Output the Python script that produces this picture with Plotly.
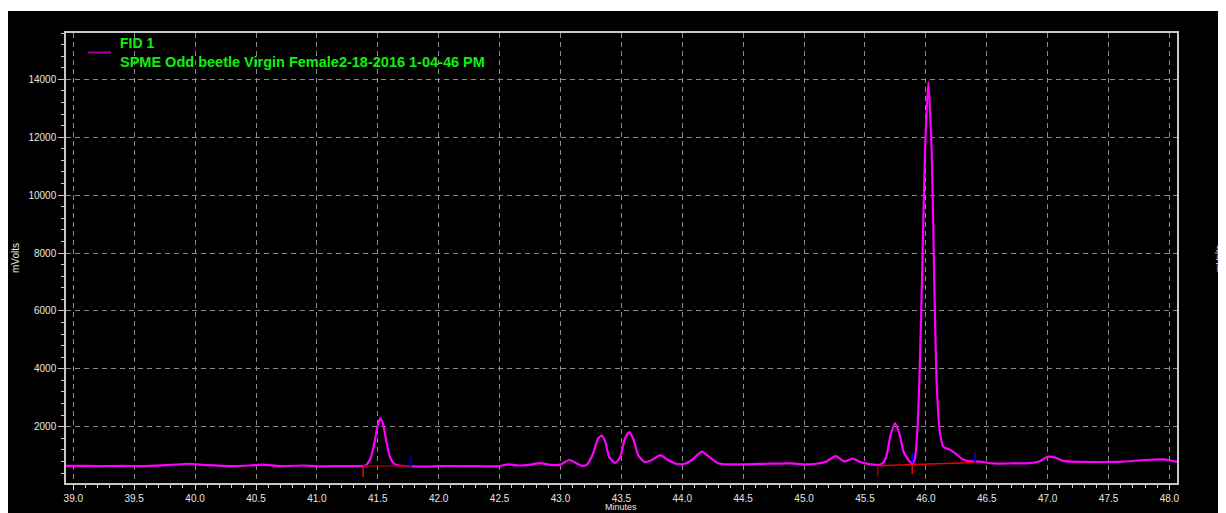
import plotly.graph_objects as go

# ---------------- data ----------------
times = [38.94, 39.0, 39.2, 39.4, 39.6, 39.8, 39.95, 40.1, 40.3, 40.45, 40.55, 40.7,
         40.9, 41.0, 41.2, 41.35, 41.40, 41.44, 41.47, 41.50, 41.52, 41.54, 41.57,
         41.60, 41.64, 41.70, 41.8, 41.9, 42.0, 42.2, 42.4, 42.5, 42.57, 42.65, 42.75,
         42.83, 42.92, 43.0, 43.07, 43.13, 43.18, 43.22, 43.27, 43.31, 43.34, 43.37,
         43.40, 43.45, 43.49, 43.53, 43.565, 43.60, 43.64, 43.69, 43.75, 43.82, 43.88,
         43.95, 44.02, 44.08, 44.16, 44.22, 44.30, 44.5, 44.7, 44.9, 45.0, 45.1, 45.18,
         45.26, 45.33, 45.40, 45.46, 45.55, 45.63, 45.67, 45.71, 45.746, 45.78, 45.82,
         45.87, 45.89, 45.91, 45.929, 45.946, 45.968, 45.993, 46.02, 46.048, 46.069,
         46.089, 46.116, 46.143, 46.2, 46.25, 46.30, 46.37, 46.45, 46.55, 46.7, 46.85,
         46.93, 47.0, 47.05, 47.12, 47.2, 47.4, 47.6, 47.8, 47.95, 48.0, 48.062]
mvolts = [650, 650, 640, 645, 640, 680, 720, 670, 640, 660, 690, 640,
          660, 630, 640, 640, 660, 900, 1400, 2050, 2290, 2150, 1500,
          950, 700, 650, 630, 620, 640, 640, 630, 640, 700, 660, 690,
          740, 680, 690, 850, 740, 650, 700, 1100, 1600, 1690, 1450,
          950, 750, 950, 1600, 1810, 1550, 1000, 780, 850, 1020, 860,
          720, 720, 850, 1140, 960, 730, 700, 720, 730, 700, 720, 790,
          980, 800, 900, 780, 700, 690, 900, 1700, 2117, 1800, 1100,
          780, 740, 900, 1780, 3500, 7000, 11500, 13900, 11500, 7000,
          3500, 1780, 1310, 1200, 1050, 880, 800, 790, 730, 730, 740,
          800, 960, 950, 830, 790, 780, 790, 850, 870, 840, 790]

# integration baselines (start time/value, end time/value)
base_t0 = [41.38, 45.605]
base_v0 = [642, 653]
base_t1 = [41.77, 46.405]
base_v1 = [642, 760]
base_colors = ["#990000", "#ee0000"]

# peak start ticks (red) and end ticks (blue)
start_t = [41.38, 45.605, 45.888]
start_lo = [262, 272, 366]
start_hi = [642, 653, 701]
start_colors = ["#ff0000", "#990000", "#ff0000"]
end_t = [41.77, 45.888, 46.405]
end_lo = [608, 746, 735]
end_hi = [988, 1102, 1102]
end_colors = ["#0000aa", "#0000ff", "#0000ff"]

x_range = [38.940, 48.062]
y_range = [55, 15600]
x_ticks = [39.0 + 0.5 * i for i in range(19)]
y_ticks = [2000, 4000, 6000, 8000, 10000, 12000, 14000]

legend_title = "FID 1"
legend_run = "SPME Odd beetle Virgin Female2-18-2016 1-04-46 PM"

# ---------------- figure ----------------
OFF = 8                      # page body margin
W, H = 1218, 505
L, R, T, B = 58, 49, 25, 30
pw, ph = W - L - R, H - T - B

def px_x(p):                 # screenshot x pixel -> paper x
    return (p - OFF - L) / pw

def px_y(p):                 # screenshot y pixel -> paper y
    return (H - B - (p - OFF)) / ph

fig = go.Figure()

fig.add_trace(go.Scatter(x=times, y=mvolts, mode="lines",
                         line=dict(color="#ff00ff", width=2.2, shape="spline", smoothing=0.6),
                         showlegend=False, hoverinfo="skip"))

for t0, v0, t1, v1, c in zip(base_t0, base_v0, base_t1, base_v1, base_colors):
    fig.add_trace(go.Scatter(x=[t0, t1], y=[v0, v1], mode="lines",
                             line=dict(color=c, width=1.5), showlegend=False, hoverinfo="skip"))
for t, lo, hi, c in zip(start_t, start_lo, start_hi, start_colors):
    fig.add_trace(go.Scatter(x=[t, t], y=[lo, hi], mode="lines",
                             line=dict(color=c, width=1.5), showlegend=False, hoverinfo="skip"))
for t, lo, hi, c in zip(end_t, end_lo, end_hi, end_colors):
    fig.add_trace(go.Scatter(x=[t, t], y=[lo, hi], mode="lines",
                             line=dict(color=c, width=1.5), showlegend=False, hoverinfo="skip"))

axis_col = "#c8c8c8"
tick_font = dict(family="Liberation Sans, Arial, sans-serif", size=10, color="#e6e6e6")
grid = dict(showgrid=True, gridcolor="#8a8a8a", gridwidth=1, griddash="5px,4px")

fig.update_layout(
    width=W, height=H,
    margin=dict(l=L, r=R, t=T, b=B, autoexpand=False),
    paper_bgcolor="white", plot_bgcolor="black",
    xaxis=dict(range=x_range, tickvals=x_ticks, tickformat=".1f", ticks="outside",
               ticklen=5, tickcolor=axis_col, showline=True, linecolor=axis_col,
               linewidth=1.5, mirror=True, zeroline=False, tickfont=tick_font,
               minor=dict(dtick=0.1, tick0=39.0, ticks="outside", ticklen=3,
                          tickcolor=axis_col, showgrid=False),
               automargin=False, **grid),
    yaxis=dict(range=y_range, tickvals=y_ticks, tickformat="d", ticks="outside",
               ticklen=6, tickcolor=axis_col, showline=True, linecolor=axis_col,
               linewidth=1.5, mirror=True, zeroline=False, tickfont=tick_font,
               minor=dict(dtick=400, tick0=0, ticks="outside", ticklen=3,
                          tickcolor=axis_col, showgrid=False),
               automargin=False, **grid),
    yaxis2=dict(range=y_range, tickvals=y_ticks, tickformat="d", ticks="outside",
                ticklen=6, tickcolor=axis_col, overlaying="y", side="right",
                anchor="x", showline=True, linecolor=axis_col, linewidth=1.5,
                showgrid=False, zeroline=False, tickfont=tick_font,
                minor=dict(dtick=400, tick0=0, ticks="outside", ticklen=3,
                           tickcolor=axis_col),
                automargin=False),
    showlegend=False,
)

# black canvas (a thin white strip stays at the top and left edges)
fig.add_shape(type="rect", xref="paper", yref="paper", layer="below",
              x0=px_x(7), x1=px_x(1240), y0=px_y(530), y1=px_y(11),
              fillcolor="black", line=dict(width=0))

# legend
fig.add_shape(type="line", xref="paper", yref="paper",
              x0=px_x(88), x1=px_x(111), y0=px_y(52.5), y1=px_y(52.5),
              line=dict(color="#a000a0", width=2))
green = "#10f010"
fig.add_annotation(xref="paper", yref="paper", x=px_x(118), y=px_y(43.5),
                   xanchor="left", yanchor="middle", showarrow=False,
                   text="<b>" + legend_title + "</b>",
                   font=dict(family="Liberation Sans, Arial, sans-serif", size=14, color=green))
fig.add_annotation(xref="paper", yref="paper", x=px_x(118), y=px_y(61.5),
                   xanchor="left", yanchor="middle", showarrow=False,
                   text="<b>" + legend_run + "</b>",
                   font=dict(family="Liberation Sans, Arial, sans-serif", size=14.5, color=green))

# axis titles
title_font = dict(family="Liberation Sans, Arial, sans-serif", size=10, color="#e6e6e6")
fig.add_annotation(xref="paper", yref="paper", x=px_x(15), y=px_y(258),
                   xanchor="center", yanchor="middle", showarrow=False,
                   text="mVolts", textangle=-90, font=title_font)
fig.add_annotation(xref="paper", yref="paper", x=px_x(1219), y=px_y(258),
                   xanchor="center", yanchor="middle", showarrow=False,
                   text="mVolts", textangle=-90, font=dict(title_font, size=9))
fig.add_annotation(xref="paper", yref="paper", x=px_x(621), y=px_y(507),
                   xanchor="center", yanchor="middle", showarrow=False,
                   text="Minutes", font=dict(title_font, size=9))

fig.write_html("out.html")
